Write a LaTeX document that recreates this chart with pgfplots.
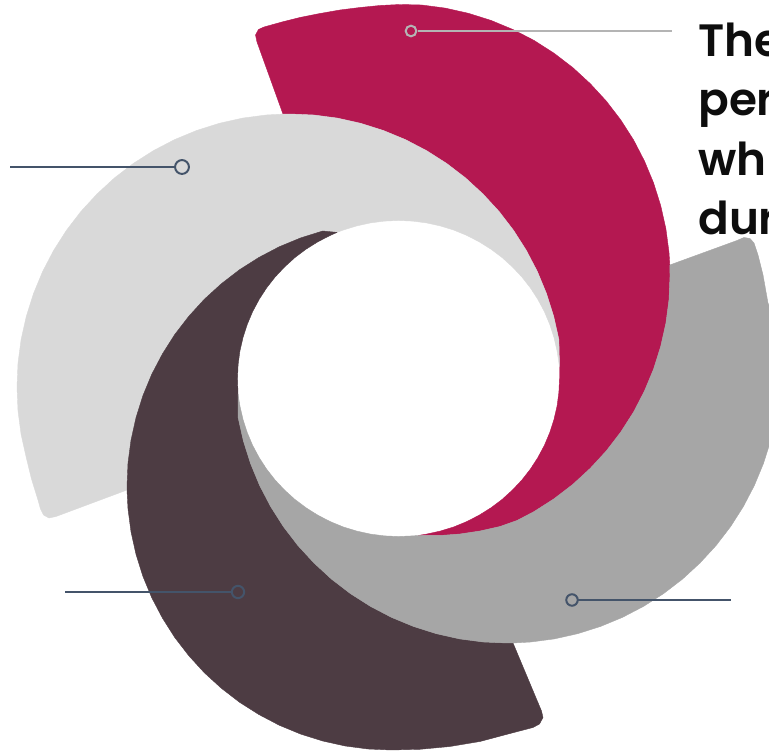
\documentclass[border=0pt]{standalone}
\usepackage{pgfplots}
\pgfplotsset{compat=1.18}
\usepackage{fontspec}
\newfontfamily\pop{Poppins SemiBold}
\definecolor{crim}{HTML}{B41851}
\definecolor{lgray}{HTML}{D9D9D9}
\definecolor{mgray}{HTML}{A6A6A6}
\definecolor{dplum}{HTML}{4D3C43}
\definecolor{slate}{HTML}{44546A}
\definecolor{lead}{HTML}{B4B4B4}
\definecolor{textc}{HTML}{0D0D0D}
\begin{document}
\begin{tikzpicture}
\useasboundingbox (0,0) rectangle (576.75pt,564pt);
\clip (0,0) rectangle (576.75pt,564pt);
\begin{axis}[at={(0,0)}, anchor=south west, scale only axis,
  width=576.75pt, height=564pt,
  xmin=0, xmax=769, ymin=0, ymax=752, y dir=reverse,
  hide axis, clip=true]
% crimson
\addplot[fill=crim, draw=crim, line width=0.3pt, line join=round] coordinates {
(283,114.1) (257,42) (255.5,35) (258.5,29.5) (264,27) (282,22) (300,17.5) (320,13.5)
(340,10) (360,7.5) (380,5.5) (400,4.5) (421.7,5) (445.2,8.1) (468.4,13.3) (491,20.4)
(512.9,29.5) (534,40.4) (554,53.2) (572.8,67.6) (590.3,83.7) (606.4,101.2) (620.8,120)
(633.6,140) (644.5,161.1) (653.6,183) (660.7,205.6) (665.9,228.8) (669,252.3)
(669.8,265) (670,276) (669,299.7) (665.9,323.2) (660.7,346.4) (653.6,369) (644.5,390.9)
(633.6,412) (620.8,432) (606.4,450.8) (590.3,468.3) (572.8,484.4) (554,498.8)
(534,511.6) (517,520.5) (500,526.5) (480,531) (460,534) (440,535.5) (418,535.5)
(426.5,534.1) (440.2,531.1) (453.6,527.0) (466.5,521.7) (479.0,515.3) (490.8,507.9)
(502.0,499.5) (512.3,490.2) (521.8,480.1) (530.4,469.1) (537.9,457.5) (544.4,445.3)
(549.8,432.5) (554,419.4) (557.1,405.9) (558.9,392.3) (559.5,378.5) (559.5,367)
(558.9,339.6) (553.7,316.4) (546.5,293.6) (537.4,271.6) (526.4,250.5) (513.6,230.4)
(499.1,211.5) (483,194) (465.5,177.9) (446.6,163.4) (426.5,150.6) (405.4,139.6)
(383.4,130.5) (360.65,123.3) (337.4,118.1) (313.8,115) (290,114)
} -- cycle;
% light gray
\addplot[fill=lgray, draw=lgray, line width=0.3pt, line join=round] coordinates {
(127,490) (56,516.5) (49,518) (43.5,515) (40.5,509) (38,500) (31.5,479) (26.3,457.7)
(21.1,434.4) (18,410.8) (17,387) (18,363.2) (21.1,339.6) (26.3,316.4) (33.5,293.6)
(42.6,271.6) (53.6,250.5) (66.4,230.4) (80.9,211.5) (97,194) (114.5,177.9) (133.4,163.4)
(153.5,150.6) (174.6,139.6) (196.6,130.5) (219.35,123.3) (242.6,118.1) (266.2,115)
(283,114.1) (290,114) (313.8,115) (337.4,118.1) (360.65,123.3) (383.4,130.5)
(405.4,139.6) (426.5,150.6) (446.6,163.4) (465.5,177.9) (483,194) (499.1,211.5)
(513.6,230.4) (526.4,250.5) (537.4,271.6) (546.5,293.6) (553.7,316.4) (558.9,339.6)
(559.5,367)
(557.1,351.1) (554,337.6) (549.8,324.5) (544.4,311.7) (537.9,299.5) (530.4,287.9)
(521.8,276.9) (512.3,266.8) (502.0,257.5) (490.8,249.1) (479.0,241.7) (466.5,235.3)
(453.6,230.0) (440.2,225.9) (426.5,222.9) (412.5,221.1) (398.5,220.5) (384.5,221.1)
(370.5,222.9) (356.8,225.9) (343.4,230.0) (337,232.4)
(322.7,231) (300.7,237.9) (279.4,246.7) (259,257.4) (239.6,269.7) (221.3,283.8)
(204.3,299.3) (188.8,316.3) (174.7,334.6) (162.4,354) (151.7,374.4) (142.9,395.7)
(136,417.7) (131,440.2) (128,463) (127,486)
} -- cycle;
% dark plum
\addplot[fill=dplum, draw=dplum, line width=0.3pt, line join=round] coordinates {
(513,643) (541.5,711) (543,717.5) (539.5,724) (533,727.5) (510,733.5) (480,741.5)
(450,746.5) (420,749.3) (391,750) (368,749) (345.2,746) (322.7,741) (300.7,734.1)
(279.4,725.3) (259,714.6) (239.6,702.3) (221.3,688.2) (204.3,672.7) (188.8,655.7)
(174.7,637.4) (162.4,618) (151.7,597.6) (142.9,576.3) (136,554.3) (131,531.8)
(128,509) (127,490) (127,486) (128,463) (131,440.2) (136,417.7) (142.9,395.7)
(151.7,374.4) (162.4,354) (174.7,334.6) (188.8,316.3) (204.3,299.3) (221.3,283.8)
(239.6,269.7) (259,257.4) (279.4,246.7) (300.7,237.9) (322.7,231) (337,232.4)
(330.5,235.3) (318.0,241.7) (306.2,249.1) (295.0,257.5) (284.7,266.8) (275.2,276.9)
(266.6,287.9) (259.1,299.5) (252.6,311.7) (247.2,324.5) (243,337.6) (239.9,351.1)
(238.1,364.7) (237.5,378.5) (238,394)
(238.1,417.4) (243.3,440.65) (250.5,463.4) (259.6,485.4) (270.6,506.5) (283.4,526.6)
(297.9,545.5) (314,563) (331.5,579.1) (350.4,593.6) (370.5,606.4) (391.6,617.4)
(413.6,626.5) (436.35,633.7) (459.6,638.9) (483.2,642) (507,643)
} -- cycle;
% mid gray
\addplot[fill=mgray, draw=mgray, line width=0.3pt, line join=round] coordinates {
(669.8,265) (737,240.5) (744,237.5) (750,238.5) (754,243) (758,255) (763,275) (768,303)
(775.9,322.6) (779,346) (780,370) (779,393.8) (775.9,417.4) (770.7,440.65) (763.5,463.4)
(754.4,485.4) (743.4,506.5) (730.6,526.6) (716.1,545.5) (700,563) (682.5,579.1)
(663.6,593.6) (643.5,606.4) (622.4,617.4) (600.4,626.5) (577.65,633.7) (554.4,638.9)
(530.8,642) (513,643) (507,643) (483.2,642) (459.6,638.9) (436.35,633.7) (413.6,626.5)
(391.6,617.4) (370.5,606.4) (350.4,593.6) (331.5,579.1) (314,563) (297.9,545.5)
(283.4,526.6) (270.6,506.5) (259.6,485.4) (250.5,463.4) (243.3,440.65) (238.1,417.4)
(238,394)
(239.9,405.9) (243,419.4) (247.2,432.5) (252.6,445.3) (259.1,457.5) (266.6,469.1)
(275.2,480.1) (284.7,490.2) (295.0,499.5) (306.2,507.9) (318.0,515.3) (330.5,521.7)
(343.4,527.0) (356.8,531.1) (370.5,534.1) (384.5,535.9) (398.5,536.5) (412.5,535.9)
(418,535.5)
(440,535.5) (460,534) (480,531) (500,526.5) (517,520.5) (534,511.6) (554,498.8)
(572.8,484.4) (590.3,468.3) (606.4,450.8) (620.8,432) (633.6,412) (644.5,390.9)
(653.6,369) (660.7,346.4) (665.9,323.2) (669,299.7) (670,276)
} -- cycle;
% leader lines
\addplot[lead, line width=1.5pt] coordinates {(417.5,31) (672,31)};
\addplot[lead, line width=1.5pt, mark=o, mark size=4pt, only marks] coordinates {(411,31)};
\addplot[slate, line width=1.5pt] coordinates {(10,167) (175,167)};
\addplot[slate, line width=1.5pt, mark=o, mark size=5.2pt, only marks] coordinates {(182,167)};
\addplot[slate, line width=1.5pt] coordinates {(65,592) (231.5,592)};
\addplot[slate, line width=1.5pt, mark=o, mark size=4.6pt, only marks] coordinates {(238,592)};
\addplot[slate, line width=1.5pt] coordinates {(578,600) (731,600)};
\addplot[slate, line width=1.5pt, mark=o, mark size=4.3pt, only marks] coordinates {(572,600)};
% text
\node[anchor=base west, inner sep=0pt, text=textc, font=\pop\fontsize{34}{40}\selectfont] at (axis cs:698,57) {The};
\node[anchor=base west, inner sep=0pt, text=textc, font=\pop\fontsize{34}{40}\selectfont] at (axis cs:698,116) {per};
\node[anchor=base west, inner sep=0pt, text=textc, font=\pop\fontsize{34}{40}\selectfont] at (axis cs:698,176) {wh};
\node[anchor=base west, inner sep=0pt, text=textc, font=\pop\fontsize{34}{40}\selectfont] at (axis cs:698,235) {dur};
\end{axis}
\end{tikzpicture}
\end{document}
